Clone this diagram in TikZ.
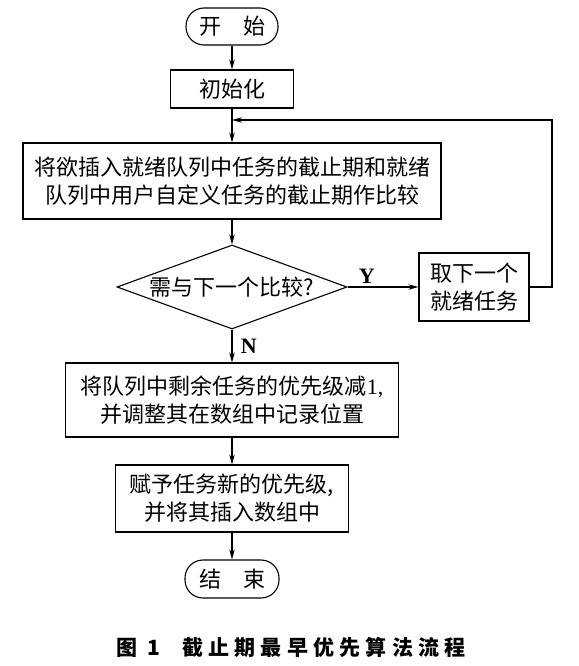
\documentclass[tikz,border=0pt]{standalone}
\usepackage{fontspec}
\setmainfont{Liberation Serif}
\newfontfamily\cjk{Noto Sans CJK SC}
\usetikzlibrary{arrows.meta,shapes.geometric}

\begin{document}
\begin{tikzpicture}[x=1pt,y=-1pt,line width=1.1pt,>={Stealth[length=10pt,width=5.5pt]},
    box/.style={shape=rectangle,draw=black,align=center,inner sep=0pt,font=\cjk\fontsize{22}{28}\selectfont},
    terminal/.style={box,rounded corners=18pt},
    decision/.style={shape=diamond,draw=black,aspect=2.74,inner sep=0pt,font=\cjk\fontsize{22}{28}\selectfont},
    yn/.style={font=\bfseries\fontsize{22}{22}\selectfont}]
    \useasboundingbox (0,0) rectangle (578,666);

    \node[terminal,minimum width=92pt,minimum height=37pt] (Start) at (232,26.5) {开\quad 始};
    \node[box,minimum width=123pt,minimum height=38pt] (Init) at (232,89) {初始化};
    \node[box,minimum width=418pt,minimum height=76pt] (Compare) at (232,181) {将欲插入就绪队列中任务的截止期和就绪\\队列中用户自定义任务的截止期作比较};
    \node[decision,minimum width=230pt,minimum height=84pt] (Decision) at (232,287) {需与下一个比较?};
    \node[box,minimum width=110pt,minimum height=68pt] (Next Task) at (474,287) {取下一个\\就绪任务};
    \node[box,minimum width=333pt,minimum height=74pt] (Decrease) at (232,400) {将队列中剩余任务的优先级减{\rmfamily 1,}\\并调整其在数组中记录位置};
    \node[box,minimum width=233pt,minimum height=67pt] (Insert) at (232,498.5) {赋予任务新的优先级,\\并将其插入数组中};
    \node[terminal,minimum width=94pt,minimum height=38pt] (End) at (232,579) {结\quad 束};
    \node[font=\cjk\bfseries\fontsize{21}{21}\selectfont\addfontfeature{LetterSpace=25}] (Caption) at (291,647) {图 1\hspace{22pt}截止期最早优先算法流程};

    \coordinate (Merge) at (232,120);
    \coordinate (Corner) at (552,120);

    \path [->] (Start) edge (Init);
    \path [->] (Init) edge (Compare);
    \path [->] (Compare) edge (Decision);
    \path [->] (Decision) edge node[yn,above,pos=.27] {Y} (Next Task);
    \path [->] (Decision) edge node[yn,right,xshift=5pt] {N} (Decrease);
    \path [->] (Decrease) edge (Insert);
    \path [->] (Insert) edge (End);
    \draw [->] (Next Task.east) -| (Corner) -- (Merge);
\end{tikzpicture}
\end{document}
